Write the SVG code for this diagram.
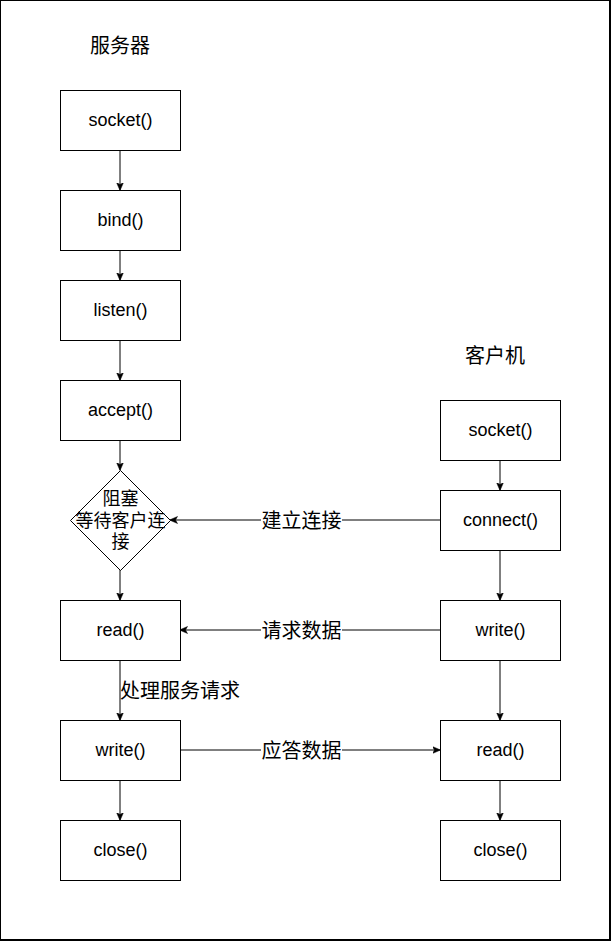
<svg xmlns="http://www.w3.org/2000/svg" width="611" height="942" viewBox="0 0 611 942">
<style>
.box{fill:#fff;stroke:#000;stroke-width:1}
.t{font-family:"Liberation Sans",Arial,sans-serif;font-size:18px;text-anchor:middle;fill:#000}
.c{font-family:"Noto Sans CJK SC","Liberation Sans",sans-serif;font-size:20px;fill:#000}
.d{font-family:"Noto Sans CJK SC","Liberation Sans",sans-serif;font-size:18px;fill:#000;text-anchor:middle}
.e{stroke:#000;stroke-width:1;fill:none;marker-end:url(#arr)}
.lbl{fill:#fff}
</style>
<defs>
<marker id="arr" markerUnits="userSpaceOnUse" viewBox="0 0 8 8" refX="7.5" refY="4" markerWidth="8" markerHeight="8" orient="auto">
<path d="M0,0.5 L8,4 L0,7.5 L2,4 z" fill="#000" stroke="#000" stroke-width="0.5"/>
</marker>
</defs>
<rect x="0" y="0" width="610" height="940" fill="#fff" stroke="#000" stroke-width="2"/>

<g id="label-server"><text class="c" x="120" y="53" text-anchor="middle">服务器</text></g>
<g id="label-client"><text class="c" x="495" y="363" text-anchor="middle">客户机</text></g>

<g id="connectors">
<path class="e" d="M120,150 L120,190"/>
<path class="e" d="M120,250 L120,280"/>
<path class="e" d="M120,340 L120,380"/>
<path class="e" d="M120,440 L120,470"/>
<path class="e" d="M120,570 L120,600"/>
<path class="e" d="M120,660 L120,720"/>
<path class="e" d="M120,780 L120,820"/>
<path class="e" d="M500,460 L500,490"/>
<path class="e" d="M440,520 L170,520"/>
<path class="e" d="M500,550 L500,600"/>
<path class="e" d="M440,630 L180,630"/>
<path class="e" d="M180,750 L440,750"/>
<path class="e" d="M500,660 L500,720"/>
<path class="e" d="M500,780 L500,820"/>
<rect class="lbl" x="261" y="508" width="81" height="25"/>
<text class="c" x="301.5" y="528" text-anchor="middle">建立连接</text>
<rect class="lbl" x="261" y="618" width="81" height="25"/>
<text class="c" x="301.5" y="638" text-anchor="middle">请求数据</text>
<rect class="lbl" x="261" y="738" width="81" height="25"/>
<text class="c" x="301.5" y="758" text-anchor="middle">应答数据</text>
<text class="c" x="120" y="698">处理服务请求</text>
</g>

<g id="s-socket"><rect class="box" x="60.5" y="90.5" width="120" height="60"/><text class="t" x="120.5" y="126">socket()</text></g>
<g id="s-bind"><rect class="box" x="60.5" y="190.5" width="120" height="60"/><text class="t" x="120.5" y="226">bind()</text></g>
<g id="s-listen"><rect class="box" x="60.5" y="280.5" width="120" height="60"/><text class="t" x="120.5" y="316">listen()</text></g>
<g id="s-accept"><rect class="box" x="60.5" y="380.5" width="120" height="60"/><text class="t" x="120.5" y="416">accept()</text></g>
<g id="s-block"><path class="box" d="M120.5,470.5 L170.5,520.5 L120.5,570.5 L70.5,520.5 Z"/>
<text class="d" x="120.5" y="505">阻塞</text>
<text class="d" x="120.5" y="527">等待客户连</text>
<text class="d" x="120.5" y="548">接</text></g>
<g id="s-read"><rect class="box" x="60.5" y="600.5" width="120" height="60"/><text class="t" x="120.5" y="636">read()</text></g>
<g id="s-write"><rect class="box" x="60.5" y="720.5" width="120" height="60"/><text class="t" x="120.5" y="756">write()</text></g>
<g id="s-close"><rect class="box" x="60.5" y="820.5" width="120" height="60"/><text class="t" x="120.5" y="856">close()</text></g>

<g id="c-socket"><rect class="box" x="440.5" y="400.5" width="120" height="60"/><text class="t" x="500.5" y="436">socket()</text></g>
<g id="c-connect"><rect class="box" x="440.5" y="490.5" width="120" height="60"/><text class="t" x="500.5" y="526">connect()</text></g>
<g id="c-write"><rect class="box" x="440.5" y="600.5" width="120" height="60"/><text class="t" x="500.5" y="636">write()</text></g>
<g id="c-read"><rect class="box" x="440.5" y="720.5" width="120" height="60"/><text class="t" x="500.5" y="756">read()</text></g>
<g id="c-close"><rect class="box" x="440.5" y="820.5" width="120" height="60"/><text class="t" x="500.5" y="856">close()</text></g>
</svg>
